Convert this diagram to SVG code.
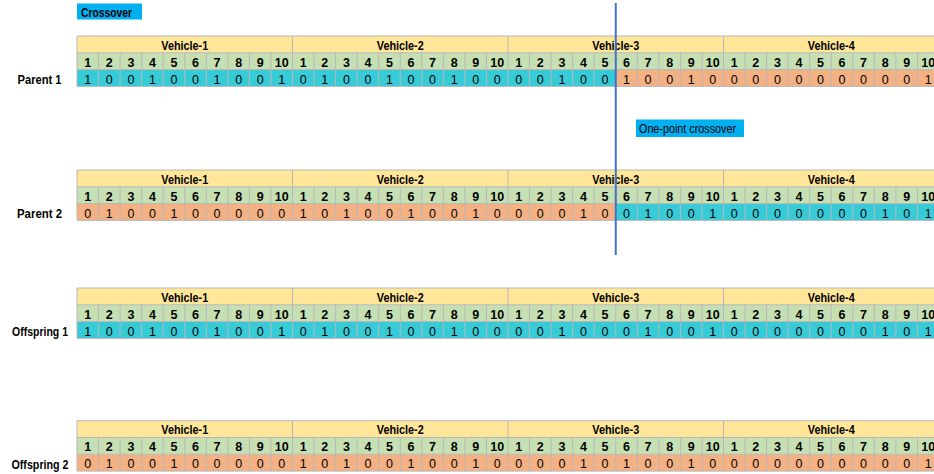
<svg xmlns="http://www.w3.org/2000/svg" xmlns:xlink="http://www.w3.org/1999/xlink" width="934" height="474" viewBox="0 0 934 474">
<style>
  text { font-family: "Liberation Sans", Arial, sans-serif; fill: #000; }
  .vh { font-size: 13.5px; font-weight: bold; text-anchor: middle; }
  .ix { font-size: 12.5px; font-weight: bold; text-anchor: middle; }
  .bit { font-size: 12.5px; text-anchor: middle; }
  .lbl { font-size: 13px; font-weight: bold; text-anchor: middle; }
  .hdr { fill: #FFE699; }
  .num { fill: #C6E0B4; }
  .cy { fill: #36CBD6; }
  .sa { fill: #F4B183; }
  .grid { fill: none; stroke: #B8B8B8; stroke-width: 1; }
  .tag { fill: #00B0F0; }
  .cut { stroke: #4472C4; stroke-width: 2; }
</style>
<defs>
  <!-- cell borders of one chromosome table: header, index and gene rows -->
  <path id="grid" class="grid" d="M77 0H939M77 16.8H939M77 33.6H939M77 50.4H939M77 0V50.4M292.5 0V16.8M508 0V16.8M723.5 0V16.8M98.55 16.8V50.4M120.1 16.8V50.4M141.65 16.8V50.4M163.2 16.8V50.4M184.75 16.8V50.4M206.3 16.8V50.4M227.85 16.8V50.4M249.4 16.8V50.4M270.95 16.8V50.4M292.5 16.8V50.4M314.05 16.8V50.4M335.6 16.8V50.4M357.15 16.8V50.4M378.7 16.8V50.4M400.25 16.8V50.4M421.8 16.8V50.4M443.35 16.8V50.4M464.9 16.8V50.4M486.45 16.8V50.4M508 16.8V50.4M529.55 16.8V50.4M551.1 16.8V50.4M572.65 16.8V50.4M594.2 16.8V50.4M615.75 16.8V50.4M637.3 16.8V50.4M658.85 16.8V50.4M680.4 16.8V50.4M701.95 16.8V50.4M723.5 16.8V50.4M745.05 16.8V50.4M766.6 16.8V50.4M788.15 16.8V50.4M809.7 16.8V50.4M831.25 16.8V50.4M852.8 16.8V50.4M874.35 16.8V50.4M895.9 16.8V50.4M917.45 16.8V50.4"/>
</defs>

<!-- title tag -->
<g id="title">
  <rect class="tag" x="77" y="3.5" width="65" height="16"/>
  <text x="81" y="16.5" font-size="13" font-weight="bold" textLength="51" lengthAdjust="spacingAndGlyphs">Crossover</text>
</g>

<!-- Parent 1 -->
<g id="parent-1" transform="translate(0,36)">
  <rect class="hdr" x="77" y="0" width="862" height="16.8"/>
  <rect class="num" x="77" y="16.8" width="862" height="16.8"/>
  <rect class="cy" x="77" y="33.6" width="538.75" height="16.8"/>
  <rect class="sa" x="615.75" y="33.6" width="323.25" height="16.8"/>
  <use xlink:href="#grid"/>
  <text class="lbl" x="39.5" y="48" textLength="44" lengthAdjust="spacingAndGlyphs">Parent 1</text>
  <text class="vh" x="184.75" y="13.5" textLength="47" lengthAdjust="spacingAndGlyphs">Vehicle-1</text>
  <text class="vh" x="400.25" y="13.5" textLength="47" lengthAdjust="spacingAndGlyphs">Vehicle-2</text>
  <text class="vh" x="615.75" y="13.5" textLength="47" lengthAdjust="spacingAndGlyphs">Vehicle-3</text>
  <text class="vh" x="831.25" y="13.5" textLength="47" lengthAdjust="spacingAndGlyphs">Vehicle-4</text>
  <g class="idx">
    <text class="ix" x="87.78" y="30.8">1</text><text class="ix" x="109.33" y="30.8">2</text><text class="ix" x="130.88" y="30.8">3</text><text class="ix" x="152.43" y="30.8">4</text><text class="ix" x="173.98" y="30.8">5</text><text class="ix" x="195.53" y="30.8">6</text><text class="ix" x="217.08" y="30.8">7</text><text class="ix" x="238.63" y="30.8">8</text><text class="ix" x="260.18" y="30.8">9</text><text class="ix" x="281.73" y="30.8">10</text>
    <text class="ix" x="303.28" y="30.8">1</text><text class="ix" x="324.83" y="30.8">2</text><text class="ix" x="346.38" y="30.8">3</text><text class="ix" x="367.93" y="30.8">4</text><text class="ix" x="389.48" y="30.8">5</text><text class="ix" x="411.03" y="30.8">6</text><text class="ix" x="432.58" y="30.8">7</text><text class="ix" x="454.13" y="30.8">8</text><text class="ix" x="475.68" y="30.8">9</text><text class="ix" x="497.23" y="30.8">10</text>
    <text class="ix" x="518.78" y="30.8">1</text><text class="ix" x="540.33" y="30.8">2</text><text class="ix" x="561.88" y="30.8">3</text><text class="ix" x="583.43" y="30.8">4</text><text class="ix" x="604.98" y="30.8">5</text><text class="ix" x="626.53" y="30.8">6</text><text class="ix" x="648.08" y="30.8">7</text><text class="ix" x="669.63" y="30.8">8</text><text class="ix" x="691.18" y="30.8">9</text><text class="ix" x="712.73" y="30.8">10</text>
    <text class="ix" x="734.28" y="30.8">1</text><text class="ix" x="755.83" y="30.8">2</text><text class="ix" x="777.38" y="30.8">3</text><text class="ix" x="798.93" y="30.8">4</text><text class="ix" x="820.48" y="30.8">5</text><text class="ix" x="842.03" y="30.8">6</text><text class="ix" x="863.58" y="30.8">7</text><text class="ix" x="885.13" y="30.8">8</text><text class="ix" x="906.68" y="30.8">9</text><text class="ix" x="928.23" y="30.8">10</text>
  </g>
  <g class="genes">
    <text class="bit" x="87.78" y="47.6">1</text><text class="bit" x="109.33" y="47.6">0</text><text class="bit" x="130.88" y="47.6">0</text><text class="bit" x="152.43" y="47.6">1</text><text class="bit" x="173.98" y="47.6">0</text><text class="bit" x="195.53" y="47.6">0</text><text class="bit" x="217.08" y="47.6">1</text><text class="bit" x="238.63" y="47.6">0</text><text class="bit" x="260.18" y="47.6">0</text><text class="bit" x="281.73" y="47.6">1</text>
    <text class="bit" x="303.28" y="47.6">0</text><text class="bit" x="324.83" y="47.6">1</text><text class="bit" x="346.38" y="47.6">0</text><text class="bit" x="367.93" y="47.6">0</text><text class="bit" x="389.48" y="47.6">1</text><text class="bit" x="411.03" y="47.6">0</text><text class="bit" x="432.58" y="47.6">0</text><text class="bit" x="454.13" y="47.6">1</text><text class="bit" x="475.68" y="47.6">0</text><text class="bit" x="497.23" y="47.6">0</text>
    <text class="bit" x="518.78" y="47.6">0</text><text class="bit" x="540.33" y="47.6">0</text><text class="bit" x="561.88" y="47.6">1</text><text class="bit" x="583.43" y="47.6">0</text><text class="bit" x="604.98" y="47.6">0</text><text class="bit" x="626.53" y="47.6">1</text><text class="bit" x="648.08" y="47.6">0</text><text class="bit" x="669.63" y="47.6">0</text><text class="bit" x="691.18" y="47.6">1</text><text class="bit" x="712.73" y="47.6">0</text>
    <text class="bit" x="734.28" y="47.6">0</text><text class="bit" x="755.83" y="47.6">0</text><text class="bit" x="777.38" y="47.6">0</text><text class="bit" x="798.93" y="47.6">0</text><text class="bit" x="820.48" y="47.6">0</text><text class="bit" x="842.03" y="47.6">0</text><text class="bit" x="863.58" y="47.6">0</text><text class="bit" x="885.13" y="47.6">0</text><text class="bit" x="906.68" y="47.6">0</text><text class="bit" x="928.23" y="47.6">1</text>
  </g>
</g>

<!-- Parent 2 -->
<g id="parent-2" transform="translate(0,170)">
  <rect class="hdr" x="77" y="0" width="862" height="16.8"/>
  <rect class="num" x="77" y="16.8" width="862" height="16.8"/>
  <rect class="sa" x="77" y="33.6" width="538.75" height="16.8"/>
  <rect class="cy" x="615.75" y="33.6" width="323.25" height="16.8"/>
  <use xlink:href="#grid"/>
  <text class="lbl" x="39.5" y="48" textLength="45" lengthAdjust="spacingAndGlyphs">Parent 2</text>
  <text class="vh" x="184.75" y="13.5" textLength="47" lengthAdjust="spacingAndGlyphs">Vehicle-1</text>
  <text class="vh" x="400.25" y="13.5" textLength="47" lengthAdjust="spacingAndGlyphs">Vehicle-2</text>
  <text class="vh" x="615.75" y="13.5" textLength="47" lengthAdjust="spacingAndGlyphs">Vehicle-3</text>
  <text class="vh" x="831.25" y="13.5" textLength="47" lengthAdjust="spacingAndGlyphs">Vehicle-4</text>
  <g class="idx">
    <text class="ix" x="87.78" y="30.8">1</text><text class="ix" x="109.33" y="30.8">2</text><text class="ix" x="130.88" y="30.8">3</text><text class="ix" x="152.43" y="30.8">4</text><text class="ix" x="173.98" y="30.8">5</text><text class="ix" x="195.53" y="30.8">6</text><text class="ix" x="217.08" y="30.8">7</text><text class="ix" x="238.63" y="30.8">8</text><text class="ix" x="260.18" y="30.8">9</text><text class="ix" x="281.73" y="30.8">10</text>
    <text class="ix" x="303.28" y="30.8">1</text><text class="ix" x="324.83" y="30.8">2</text><text class="ix" x="346.38" y="30.8">3</text><text class="ix" x="367.93" y="30.8">4</text><text class="ix" x="389.48" y="30.8">5</text><text class="ix" x="411.03" y="30.8">6</text><text class="ix" x="432.58" y="30.8">7</text><text class="ix" x="454.13" y="30.8">8</text><text class="ix" x="475.68" y="30.8">9</text><text class="ix" x="497.23" y="30.8">10</text>
    <text class="ix" x="518.78" y="30.8">1</text><text class="ix" x="540.33" y="30.8">2</text><text class="ix" x="561.88" y="30.8">3</text><text class="ix" x="583.43" y="30.8">4</text><text class="ix" x="604.98" y="30.8">5</text><text class="ix" x="626.53" y="30.8">6</text><text class="ix" x="648.08" y="30.8">7</text><text class="ix" x="669.63" y="30.8">8</text><text class="ix" x="691.18" y="30.8">9</text><text class="ix" x="712.73" y="30.8">10</text>
    <text class="ix" x="734.28" y="30.8">1</text><text class="ix" x="755.83" y="30.8">2</text><text class="ix" x="777.38" y="30.8">3</text><text class="ix" x="798.93" y="30.8">4</text><text class="ix" x="820.48" y="30.8">5</text><text class="ix" x="842.03" y="30.8">6</text><text class="ix" x="863.58" y="30.8">7</text><text class="ix" x="885.13" y="30.8">8</text><text class="ix" x="906.68" y="30.8">9</text><text class="ix" x="928.23" y="30.8">10</text>
  </g>
  <g class="genes">
    <text class="bit" x="87.78" y="47.6">0</text><text class="bit" x="109.33" y="47.6">1</text><text class="bit" x="130.88" y="47.6">0</text><text class="bit" x="152.43" y="47.6">0</text><text class="bit" x="173.98" y="47.6">1</text><text class="bit" x="195.53" y="47.6">0</text><text class="bit" x="217.08" y="47.6">0</text><text class="bit" x="238.63" y="47.6">0</text><text class="bit" x="260.18" y="47.6">0</text><text class="bit" x="281.73" y="47.6">0</text>
    <text class="bit" x="303.28" y="47.6">1</text><text class="bit" x="324.83" y="47.6">0</text><text class="bit" x="346.38" y="47.6">1</text><text class="bit" x="367.93" y="47.6">0</text><text class="bit" x="389.48" y="47.6">0</text><text class="bit" x="411.03" y="47.6">1</text><text class="bit" x="432.58" y="47.6">0</text><text class="bit" x="454.13" y="47.6">0</text><text class="bit" x="475.68" y="47.6">1</text><text class="bit" x="497.23" y="47.6">0</text>
    <text class="bit" x="518.78" y="47.6">0</text><text class="bit" x="540.33" y="47.6">0</text><text class="bit" x="561.88" y="47.6">0</text><text class="bit" x="583.43" y="47.6">1</text><text class="bit" x="604.98" y="47.6">0</text><text class="bit" x="626.53" y="47.6">0</text><text class="bit" x="648.08" y="47.6">1</text><text class="bit" x="669.63" y="47.6">0</text><text class="bit" x="691.18" y="47.6">0</text><text class="bit" x="712.73" y="47.6">1</text>
    <text class="bit" x="734.28" y="47.6">0</text><text class="bit" x="755.83" y="47.6">0</text><text class="bit" x="777.38" y="47.6">0</text><text class="bit" x="798.93" y="47.6">0</text><text class="bit" x="820.48" y="47.6">0</text><text class="bit" x="842.03" y="47.6">0</text><text class="bit" x="863.58" y="47.6">0</text><text class="bit" x="885.13" y="47.6">1</text><text class="bit" x="906.68" y="47.6">0</text><text class="bit" x="928.23" y="47.6">1</text>
  </g>
</g>

<!-- Offspring 1 -->
<g id="offspring-1" transform="translate(0,288)">
  <rect class="hdr" x="77" y="0" width="862" height="16.8"/>
  <rect class="num" x="77" y="16.8" width="862" height="16.8"/>
  <rect class="cy" x="77" y="33.6" width="862" height="16.8"/>
  <use xlink:href="#grid"/>
  <text class="lbl" x="40" y="48" textLength="56" lengthAdjust="spacingAndGlyphs">Offspring 1</text>
  <text class="vh" x="184.75" y="13.5" textLength="47" lengthAdjust="spacingAndGlyphs">Vehicle-1</text>
  <text class="vh" x="400.25" y="13.5" textLength="47" lengthAdjust="spacingAndGlyphs">Vehicle-2</text>
  <text class="vh" x="615.75" y="13.5" textLength="47" lengthAdjust="spacingAndGlyphs">Vehicle-3</text>
  <text class="vh" x="831.25" y="13.5" textLength="47" lengthAdjust="spacingAndGlyphs">Vehicle-4</text>
  <g class="idx">
    <text class="ix" x="87.78" y="30.8">1</text><text class="ix" x="109.33" y="30.8">2</text><text class="ix" x="130.88" y="30.8">3</text><text class="ix" x="152.43" y="30.8">4</text><text class="ix" x="173.98" y="30.8">5</text><text class="ix" x="195.53" y="30.8">6</text><text class="ix" x="217.08" y="30.8">7</text><text class="ix" x="238.63" y="30.8">8</text><text class="ix" x="260.18" y="30.8">9</text><text class="ix" x="281.73" y="30.8">10</text>
    <text class="ix" x="303.28" y="30.8">1</text><text class="ix" x="324.83" y="30.8">2</text><text class="ix" x="346.38" y="30.8">3</text><text class="ix" x="367.93" y="30.8">4</text><text class="ix" x="389.48" y="30.8">5</text><text class="ix" x="411.03" y="30.8">6</text><text class="ix" x="432.58" y="30.8">7</text><text class="ix" x="454.13" y="30.8">8</text><text class="ix" x="475.68" y="30.8">9</text><text class="ix" x="497.23" y="30.8">10</text>
    <text class="ix" x="518.78" y="30.8">1</text><text class="ix" x="540.33" y="30.8">2</text><text class="ix" x="561.88" y="30.8">3</text><text class="ix" x="583.43" y="30.8">4</text><text class="ix" x="604.98" y="30.8">5</text><text class="ix" x="626.53" y="30.8">6</text><text class="ix" x="648.08" y="30.8">7</text><text class="ix" x="669.63" y="30.8">8</text><text class="ix" x="691.18" y="30.8">9</text><text class="ix" x="712.73" y="30.8">10</text>
    <text class="ix" x="734.28" y="30.8">1</text><text class="ix" x="755.83" y="30.8">2</text><text class="ix" x="777.38" y="30.8">3</text><text class="ix" x="798.93" y="30.8">4</text><text class="ix" x="820.48" y="30.8">5</text><text class="ix" x="842.03" y="30.8">6</text><text class="ix" x="863.58" y="30.8">7</text><text class="ix" x="885.13" y="30.8">8</text><text class="ix" x="906.68" y="30.8">9</text><text class="ix" x="928.23" y="30.8">10</text>
  </g>
  <g class="genes">
    <text class="bit" x="87.78" y="47.6">1</text><text class="bit" x="109.33" y="47.6">0</text><text class="bit" x="130.88" y="47.6">0</text><text class="bit" x="152.43" y="47.6">1</text><text class="bit" x="173.98" y="47.6">0</text><text class="bit" x="195.53" y="47.6">0</text><text class="bit" x="217.08" y="47.6">1</text><text class="bit" x="238.63" y="47.6">0</text><text class="bit" x="260.18" y="47.6">0</text><text class="bit" x="281.73" y="47.6">1</text>
    <text class="bit" x="303.28" y="47.6">0</text><text class="bit" x="324.83" y="47.6">1</text><text class="bit" x="346.38" y="47.6">0</text><text class="bit" x="367.93" y="47.6">0</text><text class="bit" x="389.48" y="47.6">1</text><text class="bit" x="411.03" y="47.6">0</text><text class="bit" x="432.58" y="47.6">0</text><text class="bit" x="454.13" y="47.6">1</text><text class="bit" x="475.68" y="47.6">0</text><text class="bit" x="497.23" y="47.6">0</text>
    <text class="bit" x="518.78" y="47.6">0</text><text class="bit" x="540.33" y="47.6">0</text><text class="bit" x="561.88" y="47.6">1</text><text class="bit" x="583.43" y="47.6">0</text><text class="bit" x="604.98" y="47.6">0</text><text class="bit" x="626.53" y="47.6">0</text><text class="bit" x="648.08" y="47.6">1</text><text class="bit" x="669.63" y="47.6">0</text><text class="bit" x="691.18" y="47.6">0</text><text class="bit" x="712.73" y="47.6">1</text>
    <text class="bit" x="734.28" y="47.6">0</text><text class="bit" x="755.83" y="47.6">0</text><text class="bit" x="777.38" y="47.6">0</text><text class="bit" x="798.93" y="47.6">0</text><text class="bit" x="820.48" y="47.6">0</text><text class="bit" x="842.03" y="47.6">0</text><text class="bit" x="863.58" y="47.6">0</text><text class="bit" x="885.13" y="47.6">1</text><text class="bit" x="906.68" y="47.6">0</text><text class="bit" x="928.23" y="47.6">1</text>
  </g>
</g>

<!-- Offspring 2 -->
<g id="offspring-2" transform="translate(0,420.7)">
  <rect class="hdr" x="77" y="0" width="862" height="16.8"/>
  <rect class="num" x="77" y="16.8" width="862" height="16.8"/>
  <rect class="sa" x="77" y="33.6" width="862" height="16.8"/>
  <use xlink:href="#grid"/>
  <text class="lbl" x="40" y="48" textLength="57" lengthAdjust="spacingAndGlyphs">Offspring 2</text>
  <text class="vh" x="184.75" y="13.5" textLength="47" lengthAdjust="spacingAndGlyphs">Vehicle-1</text>
  <text class="vh" x="400.25" y="13.5" textLength="47" lengthAdjust="spacingAndGlyphs">Vehicle-2</text>
  <text class="vh" x="615.75" y="13.5" textLength="47" lengthAdjust="spacingAndGlyphs">Vehicle-3</text>
  <text class="vh" x="831.25" y="13.5" textLength="47" lengthAdjust="spacingAndGlyphs">Vehicle-4</text>
  <g class="idx">
    <text class="ix" x="87.78" y="30.8">1</text><text class="ix" x="109.33" y="30.8">2</text><text class="ix" x="130.88" y="30.8">3</text><text class="ix" x="152.43" y="30.8">4</text><text class="ix" x="173.98" y="30.8">5</text><text class="ix" x="195.53" y="30.8">6</text><text class="ix" x="217.08" y="30.8">7</text><text class="ix" x="238.63" y="30.8">8</text><text class="ix" x="260.18" y="30.8">9</text><text class="ix" x="281.73" y="30.8">10</text>
    <text class="ix" x="303.28" y="30.8">1</text><text class="ix" x="324.83" y="30.8">2</text><text class="ix" x="346.38" y="30.8">3</text><text class="ix" x="367.93" y="30.8">4</text><text class="ix" x="389.48" y="30.8">5</text><text class="ix" x="411.03" y="30.8">6</text><text class="ix" x="432.58" y="30.8">7</text><text class="ix" x="454.13" y="30.8">8</text><text class="ix" x="475.68" y="30.8">9</text><text class="ix" x="497.23" y="30.8">10</text>
    <text class="ix" x="518.78" y="30.8">1</text><text class="ix" x="540.33" y="30.8">2</text><text class="ix" x="561.88" y="30.8">3</text><text class="ix" x="583.43" y="30.8">4</text><text class="ix" x="604.98" y="30.8">5</text><text class="ix" x="626.53" y="30.8">6</text><text class="ix" x="648.08" y="30.8">7</text><text class="ix" x="669.63" y="30.8">8</text><text class="ix" x="691.18" y="30.8">9</text><text class="ix" x="712.73" y="30.8">10</text>
    <text class="ix" x="734.28" y="30.8">1</text><text class="ix" x="755.83" y="30.8">2</text><text class="ix" x="777.38" y="30.8">3</text><text class="ix" x="798.93" y="30.8">4</text><text class="ix" x="820.48" y="30.8">5</text><text class="ix" x="842.03" y="30.8">6</text><text class="ix" x="863.58" y="30.8">7</text><text class="ix" x="885.13" y="30.8">8</text><text class="ix" x="906.68" y="30.8">9</text><text class="ix" x="928.23" y="30.8">10</text>
  </g>
  <g class="genes">
    <text class="bit" x="87.78" y="47.6">0</text><text class="bit" x="109.33" y="47.6">1</text><text class="bit" x="130.88" y="47.6">0</text><text class="bit" x="152.43" y="47.6">0</text><text class="bit" x="173.98" y="47.6">1</text><text class="bit" x="195.53" y="47.6">0</text><text class="bit" x="217.08" y="47.6">0</text><text class="bit" x="238.63" y="47.6">0</text><text class="bit" x="260.18" y="47.6">0</text><text class="bit" x="281.73" y="47.6">0</text>
    <text class="bit" x="303.28" y="47.6">1</text><text class="bit" x="324.83" y="47.6">0</text><text class="bit" x="346.38" y="47.6">1</text><text class="bit" x="367.93" y="47.6">0</text><text class="bit" x="389.48" y="47.6">0</text><text class="bit" x="411.03" y="47.6">1</text><text class="bit" x="432.58" y="47.6">0</text><text class="bit" x="454.13" y="47.6">0</text><text class="bit" x="475.68" y="47.6">1</text><text class="bit" x="497.23" y="47.6">0</text>
    <text class="bit" x="518.78" y="47.6">0</text><text class="bit" x="540.33" y="47.6">0</text><text class="bit" x="561.88" y="47.6">0</text><text class="bit" x="583.43" y="47.6">1</text><text class="bit" x="604.98" y="47.6">0</text><text class="bit" x="626.53" y="47.6">1</text><text class="bit" x="648.08" y="47.6">0</text><text class="bit" x="669.63" y="47.6">0</text><text class="bit" x="691.18" y="47.6">1</text><text class="bit" x="712.73" y="47.6">0</text>
    <text class="bit" x="734.28" y="47.6">0</text><text class="bit" x="755.83" y="47.6">0</text><text class="bit" x="777.38" y="47.6">0</text><text class="bit" x="798.93" y="47.6">0</text><text class="bit" x="820.48" y="47.6">0</text><text class="bit" x="842.03" y="47.6">0</text><text class="bit" x="863.58" y="47.6">0</text><text class="bit" x="885.13" y="47.6">0</text><text class="bit" x="906.68" y="47.6">0</text><text class="bit" x="928.23" y="47.6">1</text>
  </g>
</g>

<!-- crossover point and its caption -->
<g id="connectors">
  <line class="cut" x1="615.75" y1="3" x2="615.75" y2="255"/>
</g>
<g id="cut-label">
  <rect class="tag" x="636" y="119.5" width="108" height="17.5"/>
  <text x="639" y="133" font-size="12.5" textLength="97" lengthAdjust="spacingAndGlyphs">One-point crossover</text>
</g>
</svg>
